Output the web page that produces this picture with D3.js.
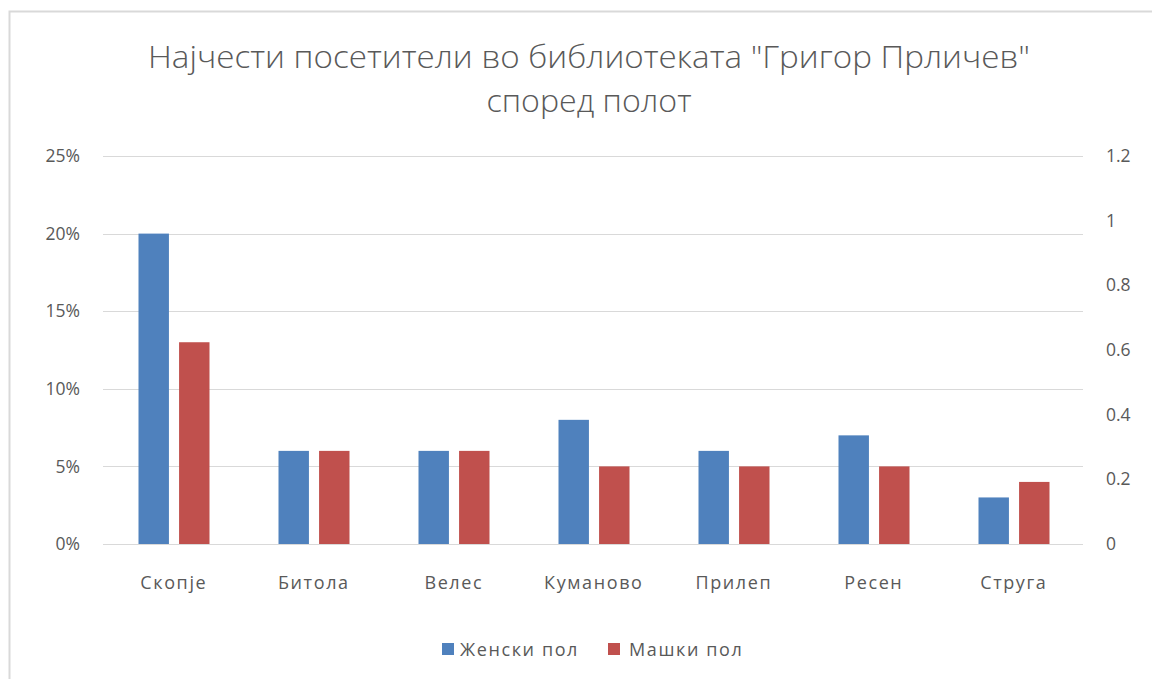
<!DOCTYPE html>
<html>
<head>
<meta charset="utf-8">
<script src="https://cdn.jsdelivr.net/npm/d3@7"></script>
<style>
  html, body { margin: 0; padding: 0; background: #fff; }
  svg { display: block; }
  text { font-family: "Open Sans", "Noto Sans", sans-serif; fill: #595959; }
</style>
</head>
<body>
<script>
const titleLines = ["Најчести посетители во библиотеката \"Григор Прличев\"", "според полот"];
const categories = ["Скопје", "Битола", "Велес", "Куманово", "Прилеп", "Ресен", "Струга"];
const seriesNames = ["Женски пол", "Машки пол"];
const femaleValues = [0.20, 0.06, 0.06, 0.08, 0.06, 0.07, 0.03];
const maleValues = [0.13, 0.06, 0.06, 0.05, 0.05, 0.05, 0.04];
const leftTicks = [0, 0.05, 0.10, 0.15, 0.20, 0.25];
const rightTicks = [0, 0.2, 0.4, 0.6, 0.8, 1.0, 1.2];
const colors = ["#4F81BD", "#C0504D"];

const W = 1152, H = 679;
const plot = { left: 103, right: 1083, top: 156, bottom: 544 };

const svg = d3.select("body").append("svg").attr("width", W).attr("height", H);

// chart border (only top and left visible in the frame)
svg.append("rect")
  .attr("x", 9.5).attr("y", 11.5).attr("width", 1200).attr("height", 700)
  .attr("fill", "#fff").attr("stroke", "#D9D9D9").attr("stroke-width", 2);

// title
const titleY = [68, 112];
const titleW = [882, 205];
titleLines.forEach((t, i) => {
  svg.append("text")
    .attr("x", 589).attr("y", titleY[i])
    .attr("text-anchor", "middle")
    .attr("font-size", 31).attr("font-weight", 300)
    .attr("textLength", titleW[i]).attr("lengthAdjust", "spacingAndGlyphs")
    .text(t);
});

const x0 = d3.scaleBand().domain(categories).range([plot.left, plot.right]).padding(0);
const x1 = d3.scaleBand().domain(seriesNames).range([-34.5, 36.5]).paddingInner(0.25).paddingOuter(0);
const yL = d3.scaleLinear().domain([0, 0.25]).range([plot.bottom, plot.top]);
const yR = d3.scaleLinear().domain([0, 1.2]).range([plot.bottom, plot.top]);

// gridlines
svg.append("g").selectAll("line").data(leftTicks).join("line")
  .attr("x1", plot.left).attr("x2", plot.right)
  .attr("y1", d => Math.round(yL(d)) + 0.5).attr("y2", d => Math.round(yL(d)) + 0.5)
  .attr("stroke", "#D9D9D9").attr("stroke-width", 1);

// left axis
const axL = svg.append("g").attr("transform", `translate(${plot.left},0)`)
  .call(d3.axisLeft(yL).tickValues(leftTicks).tickFormat(d3.format(".0%")).tickSize(0).tickPadding(23));
axL.select(".domain").remove();
axL.selectAll("text").attr("font-size", 17.5).attr("fill", "#595959").attr("font-family", "Open Sans, sans-serif");

// right axis
const axR = svg.append("g").attr("transform", `translate(${plot.right},0)`)
  .call(d3.axisRight(yR).tickValues(rightTicks).tickFormat(d => String(+d.toFixed(1))).tickSize(0).tickPadding(23));
axR.select(".domain").remove();
axR.selectAll("text").attr("font-size", 17.5).attr("fill", "#595959").attr("font-family", "Open Sans, sans-serif");

// bars
const rows = categories.map((c, i) => ({ cat: c, vals: [femaleValues[i], maleValues[i]] }));
const groups = svg.append("g").selectAll("g").data(rows).join("g")
  .attr("transform", d => `translate(${x0(d.cat) + x0.bandwidth() / 2},0)`);
groups.selectAll("rect").data(d => d.vals.map((v, j) => ({ name: seriesNames[j], v, j })))
  .join("rect")
  .attr("x", d => x1(d.name))
  .attr("width", x1.bandwidth())
  .attr("y", d => yL(d.v))
  .attr("height", d => yL(0) - yL(d.v))
  .attr("fill", d => colors[d.j]);

// category labels
const axX = svg.append("g").attr("transform", `translate(0,${plot.bottom})`)
  .call(d3.axisBottom(x0).tickSize(0).tickPadding(32));
axX.select(".domain").remove();
axX.selectAll("text").attr("font-size", 18).attr("letter-spacing", "1.6px")
  .attr("dx", 0.8).attr("fill", "#595959").attr("font-family", "Open Sans, sans-serif");

// legend
const legendX = [442, 608];
const leg = svg.append("g").selectAll("g").data(seriesNames).join("g")
  .attr("transform", (d, i) => `translate(${legendX[i]},643)`);
leg.append("rect").attr("width", 12).attr("height", 12).attr("fill", (d, i) => colors[i]);
leg.append("text").attr("x", (d, i) => i === 0 ? 18 : 21).attr("y", 12.5)
  .attr("font-size", 18).attr("letter-spacing", "1.6px").text(d => d);
</script>
</body>
</html>
